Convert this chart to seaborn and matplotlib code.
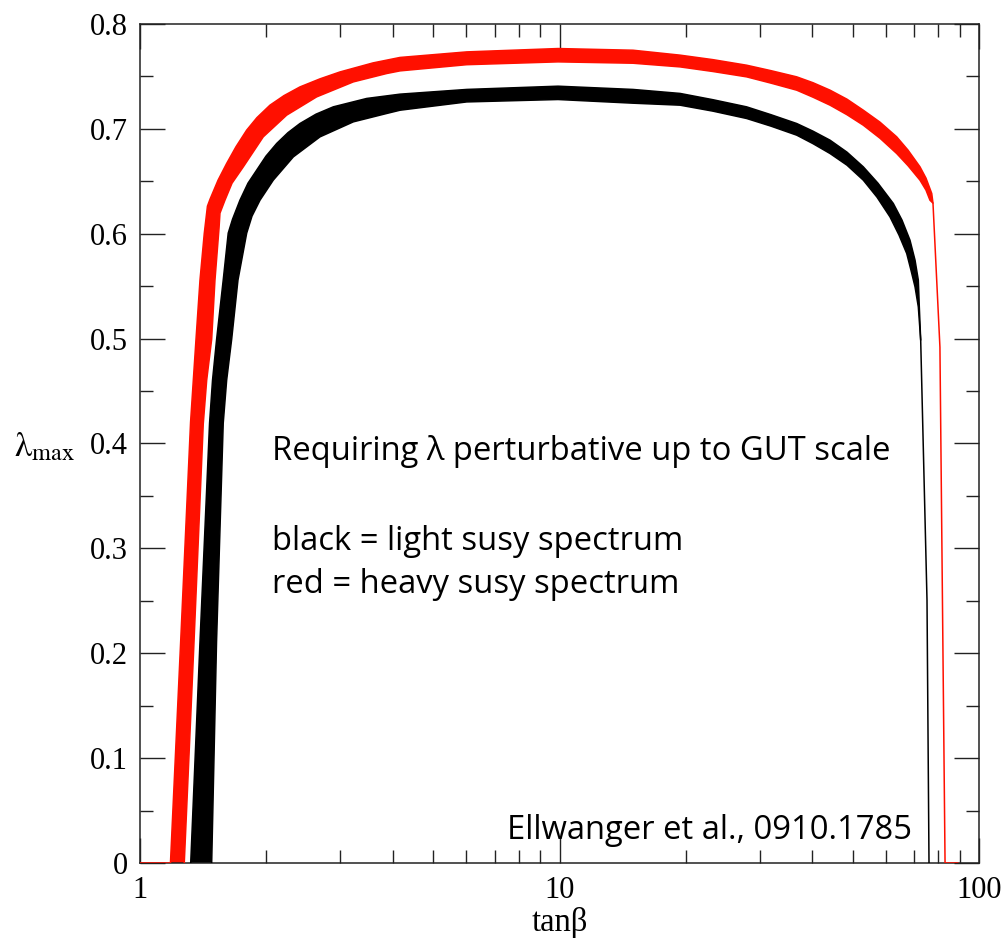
import numpy as np
import pandas as pd
import matplotlib
matplotlib.use("Agg")
import matplotlib.pyplot as plt
import seaborn as sns
from matplotlib.ticker import MultipleLocator, FixedLocator, LogLocator, NullFormatter

# ---------------- data ----------------
# red = heavy susy spectrum : outer (upper/left) edge and inner (lower/right) edge
red_outer_tanb = [1.0, 1.182, 1.250, 1.320, 1.340, 1.360, 1.390, 1.423, 1.448, 1.469, 1.535,
                  1.609, 1.694, 1.796, 1.900, 2.041, 2.204, 2.406, 2.686, 2.998, 3.593, 4.167,
                  6.009, 9.92, 14.97, 19.38, 23.22, 27.93, 31.93, 36.77, 40.21, 44.15, 48.45,
                  52.99, 58.07, 63.65, 67.74, 72.33, 74.76, 77.15, 77.68, 80.7, 83.0, 89.1]
red_outer_lam = [0.0, 0.0, 0.2107, 0.4204, 0.4604, 0.4995, 0.5558, 0.6003, 0.6263, 0.6330, 0.6511,
                 0.6670, 0.6830, 0.6988, 0.7107, 0.7226, 0.7317, 0.7400, 0.7477, 0.7543, 0.7629, 0.7681,
                 0.7734, 0.7766, 0.7750, 0.7703, 0.7660, 0.7607, 0.7555, 0.7496, 0.7440, 0.7369, 0.7283,
                 0.7178, 0.7064, 0.6924, 0.6797, 0.6638, 0.6530, 0.6384, 0.6292, 0.4919, 0.0, 0.0]
red_inner_tanb = [1.275, 1.345, 1.415, 1.442, 1.482, 1.509, 1.543, 1.551, 1.594, 1.657, 1.763,
                  1.967, 2.237, 2.637, 3.225, 3.874, 4.167, 6.009, 9.92, 14.97, 19.38, 23.22,
                  27.93, 31.93, 36.77, 40.21, 44.15, 48.45, 52.99, 58.07, 63.65, 67.74, 72.33,
                  74.76, 76.4, 77.68]
red_inner_lam = [0.0, 0.2107, 0.4185, 0.4604, 0.4995, 0.5558, 0.6053, 0.6196, 0.6320, 0.6482, 0.6638,
                 0.6924, 0.7131, 0.7305, 0.7448, 0.7528, 0.7553, 0.7612, 0.7639, 0.7626, 0.7591, 0.7547,
                 0.7496, 0.7436, 0.7369, 0.7302, 0.7226, 0.7135, 0.7035, 0.6911, 0.6765, 0.6649, 0.6511,
                 0.6416, 0.6320, 0.6292]

# black = light susy spectrum
black_outer_tanb = [1.321, 1.390, 1.465, 1.489, 1.523, 1.579, 1.623, 1.662, 1.731, 1.809, 1.897,
                    1.997, 2.118, 2.253, 2.406, 2.627, 2.889, 3.471, 4.167, 6.009, 9.92, 14.97,
                    19.38, 23.22, 27.93, 31.93, 36.77, 40.21, 44.15, 48.45, 52.99, 57.43, 62.47,
                    65.53, 68.46, 70.39, 71.67, 72.06, 72.61, 75.17, 76.0]
black_outer_lam = [0.0, 0.2107, 0.4194, 0.4604, 0.4995, 0.5558, 0.6006, 0.6139, 0.6320, 0.6482, 0.6606,
                   0.6740, 0.6861, 0.6964, 0.7051, 0.7140, 0.7210, 0.7290, 0.7331, 0.7376, 0.7407, 0.7376,
                   0.7338, 0.7278, 0.7210, 0.7135, 0.7051, 0.6978, 0.6892, 0.6778, 0.6638, 0.6482, 0.6289,
                   0.6130, 0.5939, 0.5748, 0.5558, 0.5303, 0.4986, 0.2507, 0.0]
black_inner_tanb = [1.482, 1.522, 1.579, 1.609, 1.654, 1.712, 1.796, 1.849, 1.932, 2.078, 2.320,
                    2.686, 3.225, 3.874, 4.167, 6.009, 9.92, 14.97, 19.38, 23.22, 27.93, 31.93,
                    36.77, 40.21, 44.15, 48.45, 52.99, 57.13, 61.35, 64.47, 67.25, 68.84, 70.39,
                    71.67, 72.61]
black_inner_lam = [0.0, 0.2107, 0.4194, 0.4604, 0.4995, 0.5558, 0.6006, 0.6168, 0.6320, 0.6511, 0.6733,
                   0.6924, 0.7067, 0.7147, 0.7178, 0.7257, 0.7280, 0.7245, 0.7226, 0.7169, 0.7099, 0.7026,
                   0.6940, 0.6859, 0.6765, 0.6654, 0.6511, 0.6349, 0.6161, 0.5987, 0.5812, 0.5653, 0.5494,
                   0.5303, 0.4986]

x_ticks = [1, 10, 100]
x_ticklabels = ["1", "10", "100"]
y_ticks = [0.0, 0.1, 0.2, 0.3, 0.4, 0.5, 0.6, 0.7, 0.8]
y_ticklabels = ["0", "0.1", "0.2", "0.3", "0.4", "0.5", "0.6", "0.7", "0.8"]

note_title = "Requiring λ perturbative up to GUT scale"
note_black = "black = light susy spectrum"
note_red = "red = heavy susy spectrum"
credit = "Ellwanger et al., 0910.1785"

# ---------------- style ----------------
sns.set_style("ticks")
plt.rcParams["font.family"] = ["Liberation Serif", "DejaVu Serif"]
plt.rcParams["mathtext.fontset"] = "stix"
plt.rcParams["text.color"] = "black"
plt.rcParams["axes.labelcolor"] = "black"

RED = "#ff1000"
BLACK = "#000000"

fig = plt.figure(figsize=(10.05, 9.40), dpi=100)
ax = fig.add_axes([140 / 1005, 1 - 863 / 940, 839 / 1005, 839 / 940])
ax.set_xscale("log")


def band(outer_x, outer_y, inner_x, inner_y, color, lw):
    # the filled band runs along the outer edge until it meets the end of the inner edge
    j = max(i for i, v in enumerate(outer_x) if v <= inner_x[-1])
    px = list(outer_x[:j + 1]) + list(inner_x)[::-1]
    py = list(outer_y[:j + 1]) + list(inner_y)[::-1]
    ax.fill(px, py, color=color, lw=0, zorder=2)
    d_o = pd.DataFrame({"tanb": outer_x, "lam": outer_y})
    d_i = pd.DataFrame({"tanb": inner_x, "lam": inner_y})
    sns.lineplot(data=d_o, x="tanb", y="lam", sort=False, estimator=None, color=color,
                 lw=lw, ax=ax, zorder=3)
    sns.lineplot(data=d_i, x="tanb", y="lam", sort=False, estimator=None, color=color,
                 lw=lw, ax=ax, zorder=3)


band(red_outer_tanb, red_outer_lam, red_inner_tanb, red_inner_lam, RED, 1.1)
band(black_outer_tanb, black_outer_lam, black_inner_tanb, black_inner_lam, BLACK, 1.1)

ax.set_xlim(1, 100)
ax.set_ylim(0, 0.8)

ax.xaxis.set_major_locator(FixedLocator(x_ticks))
ax.set_xticklabels(x_ticklabels)
ax.xaxis.set_minor_locator(LogLocator(base=10, subs=np.arange(2, 10)))
ax.xaxis.set_minor_formatter(NullFormatter())
ax.yaxis.set_major_locator(FixedLocator(y_ticks))
ax.set_yticklabels(y_ticklabels)
ax.yaxis.set_minor_locator(MultipleLocator(0.05))

ax.tick_params(which="major", direction="in", length=18, width=1.0, top=True, right=True,
               labelsize=22, pad=9, color="#222222", labelcolor="black")
ax.tick_params(which="minor", direction="in", length=9.5, width=1.0, top=True, right=True,
               color="#222222")
for s in ax.spines.values():
    s.set_linewidth(1.1)
    s.set_color("#222222")

ax.set_xlabel("tanβ", fontsize=23.5, color="black")
ax.xaxis.set_label_coords(0.5, -0.052)
ax.set_ylabel(r"$\mathrm{\lambda}_{\mathrm{max}}$", fontsize=25, rotation=0, va="center",
              ha="center", color="black")
ax.yaxis.set_label_coords(-0.114, 0.495)

txt_font = ["Open Sans", "DejaVu Sans"]
txt_kw = dict(transform=ax.transAxes, fontsize=23.6, family=txt_font, color="black",
              fontweight="medium")
ax.text(0.157, 0.49, note_title, ha="left", va="center", **txt_kw)
ax.text(0.157, 0.3826, note_black, ha="left", va="center", **txt_kw)
ax.text(0.157, 0.3325, note_red, ha="left", va="center", **txt_kw)
ax.text(0.920, 0.0393, credit, ha="right", va="center", **txt_kw)

fig.savefig("out.png", dpi=100, facecolor="white")
